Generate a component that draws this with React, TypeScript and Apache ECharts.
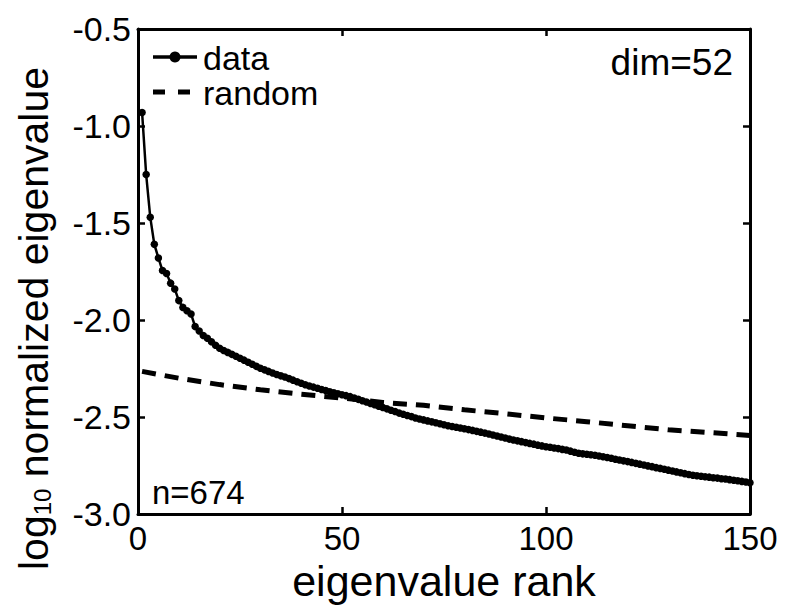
import React, { useEffect, useRef } from "react";
import * as echarts from "echarts";

// eigenvalue rank 1..150 (log10 normalized eigenvalue)
const dataValues = [
  -0.93, -1.25, -1.47, -1.61, -1.68, -1.745, -1.76, -1.81, -1.84, -1.9,
  -1.935, -1.952, -1.969, -2.034, -2.057, -2.08, -2.094, -2.112, -2.13, -2.146,
  -2.157, -2.167, -2.177, -2.187, -2.197, -2.207, -2.218, -2.228, -2.239, -2.249,
  -2.257, -2.265, -2.273, -2.281, -2.288, -2.294, -2.302, -2.31, -2.318, -2.326,
  -2.334, -2.34, -2.346, -2.352, -2.358, -2.364, -2.37, -2.375, -2.38, -2.385,
  -2.39, -2.395, -2.402, -2.409, -2.416, -2.423, -2.43, -2.437, -2.444, -2.451,
  -2.458, -2.465, -2.472, -2.48, -2.486, -2.492, -2.498, -2.505, -2.51, -2.515,
  -2.52, -2.525, -2.53, -2.535, -2.54, -2.545, -2.549, -2.553, -2.557, -2.561,
  -2.565, -2.569, -2.574, -2.578, -2.583, -2.588, -2.593, -2.598, -2.603, -2.608,
  -2.614, -2.619, -2.623, -2.627, -2.632, -2.636, -2.64, -2.645, -2.649, -2.653,
  -2.656, -2.66, -2.663, -2.667, -2.67, -2.676, -2.682, -2.687, -2.69, -2.692,
  -2.695, -2.697, -2.701, -2.705, -2.709, -2.713, -2.718, -2.722, -2.726, -2.73,
  -2.734, -2.739, -2.743, -2.747, -2.752, -2.756, -2.761, -2.765, -2.769, -2.774,
  -2.778, -2.783, -2.787, -2.792, -2.796, -2.8, -2.803, -2.805, -2.808, -2.81,
  -2.813, -2.815, -2.818, -2.82, -2.823, -2.826, -2.829, -2.832, -2.835, -2.839,
];

const randomRanks = [1, 10, 20, 30, 40, 50, 60, 70, 80, 90, 100, 110, 120, 130, 140, 150];
const randomValues = [
  -2.265, -2.3, -2.333, -2.36, -2.383, -2.402, -2.425, -2.44, -2.463, -2.483,
  -2.505, -2.524, -2.545, -2.566, -2.58, -2.595,
];

const xRange = [0, 150];
const yRange = [-3.0, -0.5];
const seriesNames = ["data", "random"];
const annotations = { dim: "dim=52", n: "n=674" };

const FONT = "'Liberation Sans', Arial, Helvetica, sans-serif";

export default function App() {
  const ref = useRef<HTMLDivElement>(null);

  useEffect(() => {
    if (!ref.current) return;
    const chart = echarts.init(ref.current, undefined, { renderer: "svg" });

    const axisLine = { show: true, onZero: false, lineStyle: { color: "#000", width: 3 } };
    const axisTick = { show: true, inside: true, length: 7, lineStyle: { color: "#000", width: 2.5 } };

    const baseX = {
      type: "value" as const,
      min: xRange[0],
      max: xRange[1],
      interval: 50,
      axisLine,
      axisTick,
      splitLine: { show: false },
    };
    const baseY = {
      type: "value" as const,
      min: yRange[0],
      max: yRange[1],
      interval: 0.5,
      axisLine,
      axisTick,
      splitLine: { show: false },
    };

    chart.setOption({
      animation: false,
      backgroundColor: "#fff",
      textStyle: { fontFamily: FONT, color: "#000" },
      grid: { left: 138, right: 38, top: 29, bottom: 94, containLabel: false, outerBoundsMode: "none" },
      xAxis: [
        {
          ...baseX,
          position: "bottom",
          axisLabel: { show: true, color: "#000", fontSize: 33, fontFamily: FONT, margin: 8 },
          name: "eigenvalue rank",
          nameLocation: "middle",
          nameGap: 45,
          nameTextStyle: { fontSize: 43, color: "#000", fontFamily: FONT },
        },
        { ...baseX, position: "top", axisLabel: { show: false } },
      ],
      yAxis: [
        {
          ...baseY,
          position: "left",
          axisLabel: {
            show: true,
            color: "#000",
            fontSize: 34,
            fontFamily: FONT,
            margin: 7,
            formatter: (v: number) => v.toFixed(1),
          },
          name: "{a|log}{b|10}{a| normalized eigenvalue}",
          nameLocation: "middle",
          nameRotate: 90,
          nameGap: 84,
          nameTextStyle: {
            color: "#000",
            fontFamily: FONT,
            padding: [0, 94, 0, 0],
            rich: {
              a: { fontSize: 41, fontFamily: FONT, color: "#000" },
              b: { fontSize: 24, fontFamily: FONT, color: "#000", verticalAlign: "bottom", padding: [16, 0, 0, 0] },
            },
          },
        },
        { ...baseY, position: "right", axisLabel: { show: false } },
      ],
      series: [
        {
          name: seriesNames[0],
          type: "line",
          data: dataValues.map((v, i) => [i + 1, v]),
          symbol: "circle",
          symbolSize: 7.5,
          showSymbol: true,
          itemStyle: { color: "#000" },
          lineStyle: { color: "#000", width: 2.5 },
          z: 3,
        },
        {
          name: seriesNames[1],
          type: "line",
          data: randomRanks.map((r, i) => [r, randomValues[i]]),
          showSymbol: false,
          symbol: "none",
          lineStyle: { color: "#000", width: 5, type: [14, 9] },
          z: 2,
        },
      ],
      graphic: [
        { type: "line", shape: { x1: 153, y1: 57, x2: 197, y2: 57 }, style: { stroke: "#000", lineWidth: 3.5 } },
        { type: "circle", shape: { cx: 175, cy: 57, r: 5.5 }, style: { fill: "#000" } },
        {
          type: "text",
          x: 203,
          y: 58,
          style: { text: seriesNames[0], font: `34px ${FONT}`, fill: "#000", verticalAlign: "middle", align: "left" },
        },
        {
          type: "line",
          shape: { x1: 153, y1: 92, x2: 190, y2: 92 },
          style: { stroke: "#000", lineWidth: 5, lineDash: [12, 13] },
        },
        {
          type: "text",
          x: 203,
          y: 93,
          style: { text: seriesNames[1], font: `34px ${FONT}`, fill: "#000", verticalAlign: "middle", align: "left" },
        },
        {
          type: "text",
          x: 733,
          y: 62,
          style: { text: annotations.dim, font: `37px ${FONT}`, fill: "#000", verticalAlign: "middle", align: "right" },
        },
        {
          type: "text",
          x: 152,
          y: 492,
          style: { text: annotations.n, font: `33px ${FONT}`, fill: "#000", verticalAlign: "middle", align: "left" },
        },
      ],
    });

    return () => chart.dispose();
  }, []);

  return (
    <div
      ref={ref}
      style={{ position: "absolute", left: 0, top: 0, width: 788, height: 608, background: "#fff" }}
    />
  );
}
